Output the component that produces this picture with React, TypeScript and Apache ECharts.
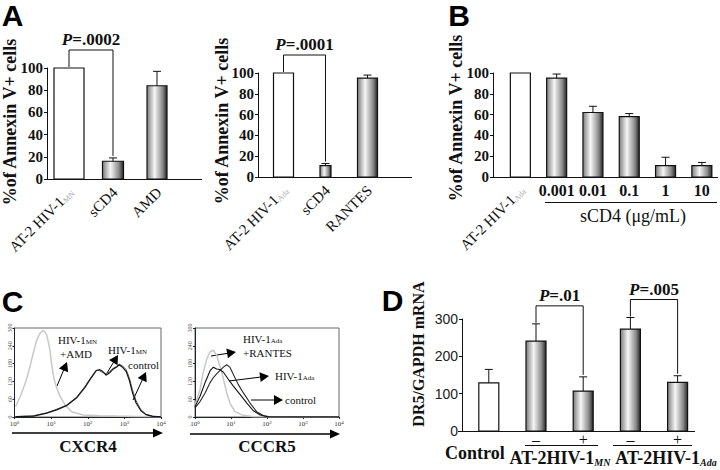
import React, { useEffect, useRef } from 'react';
import * as echarts from 'echarts';

const SERIF = 'Liberation Serif, Times New Roman, serif';
const SANS = 'Liberation Sans, Arial, sans-serif';

// ---------- Panel A (left) ----------
const A1_CATEGORIES = ['AT-2 HIV-1_MN', 'sCD4', 'AMD'];
const A1_VALUES = [100, 16, 84];
const A1_ERROR_TOPS = [100, 19, 97];
const A1_P_LABEL = 'P=.0002';

// ---------- Panel A (right) ----------
const A2_CATEGORIES = ['AT-2 HIV-1_Ada', 'sCD4', 'RANTES'];
const A2_VALUES = [100, 11, 95];
const A2_ERROR_TOPS = [100, 13, 98];
const A2_P_LABEL = 'P=.0001';

// ---------- Panel B ----------
const B_CATEGORIES = ['AT-2 HIV-1_Ada', '0.001', '0.01', '0.1', '1', '10'];
const B_VALUES = [100, 95, 62, 58, 11, 11];
const B_ERROR_TOPS = [100, 99, 68, 61, 19, 14];

// ---------- Panel C (flow histograms: [log10 fluorescence, counts]) ----------
const C1_AMD = [
  [0.03, 36], [0.16, 70], [0.3, 116], [0.43, 173], [0.52, 220], [0.61, 260], [0.7, 283], [0.79, 292],
  [0.88, 277], [0.96, 231], [1.02, 173], [1.08, 128], [1.15, 99], [1.24, 70], [1.38, 41], [1.56, 18],
  [1.87, 7], [2.32, 4], [2.8, 3], [3.3, 2], [3.99, 1],
];
const C1_HIV = [
  [0.03, 1], [0.52, 3], [0.88, 13], [1.15, 24], [1.42, 38], [1.69, 64], [1.92, 99], [2.1, 133],
  [2.23, 156], [2.32, 160], [2.41, 153], [2.5, 141], [2.59, 148], [2.68, 160], [2.78, 168], [2.86, 176],
  [2.95, 168], [3.05, 153], [3.14, 122], [3.22, 82], [3.32, 47], [3.45, 21], [3.59, 8], [3.77, 2], [3.99, 1],
];
const C1_CONTROL = [
  [0.03, 1], [0.52, 4], [0.88, 14], [1.15, 26], [1.42, 40], [1.69, 66], [1.92, 102], [2.1, 136],
  [2.23, 158], [2.32, 156], [2.41, 150], [2.5, 146], [2.59, 152], [2.68, 163], [2.78, 170], [2.86, 178],
  [2.95, 172], [3.05, 160], [3.14, 130], [3.22, 92], [3.32, 55], [3.45, 25], [3.59, 9], [3.77, 3], [3.99, 1],
];
const C2_RANTES = [
  [0, 41], [0.14, 93], [0.23, 151], [0.33, 197], [0.42, 220], [0.51, 225], [0.6, 208], [0.69, 173],
  [0.79, 128], [0.88, 82], [0.97, 47], [1.11, 18], [1.3, 7], [1.62, 1], [2.5, 0], [4, 0],
];
const C2_HIV = [
  [0, 35], [0.14, 70], [0.28, 116], [0.42, 156], [0.51, 168], [0.6, 162], [0.69, 160], [0.79, 151],
  [0.92, 128], [1.06, 105], [1.25, 76], [1.44, 47], [1.62, 21], [1.81, 7], [2.0, 1], [2.5, 0], [4, 0],
];
const C2_CONTROL = [
  [0, 31], [0.14, 52], [0.28, 81], [0.42, 116], [0.51, 133], [0.6, 145], [0.69, 156], [0.79, 168],
  [0.88, 176], [0.97, 168], [1.06, 145], [1.2, 110], [1.34, 82], [1.53, 47], [1.71, 18], [1.9, 5],
  [2.08, 1], [2.5, 0], [4, 0],
];

// ---------- Panel D ----------
const D_CATEGORIES = ['Control', '–', '+', '–', '+'];
const D_VALUES = [129, 241, 107, 273, 130];
const D_ERROR_TOPS = [165, 287, 145, 304, 148];
const D_P_LABELS = ['P=.01', 'P=.005'];

// bar widths (px) – styling
const A1_BAR_W = [30, 21, 20];
const A2_BAR_W = [20, 11, 20];
const B_BAR_W = [20];
const D_BAR_W = [20];

const BAR_GRAD = () =>
  new echarts.graphic.LinearGradient(0, 0, 1, 0, [
    { offset: 0, color: '#7c7c7c' },
    { offset: 0.38, color: '#f6f6f6' },
    { offset: 0.78, color: '#8a8a8a' },
    { offset: 1, color: '#262626' },
  ]);

const LABEL_RICH = {
  m: { fontFamily: SERIF, fontSize: 15, fill: '#111' },
  s: { fontFamily: SERIF, fontSize: 8, fill: '#aaa', verticalAlign: 'bottom' },
};
const P_RICH = {
  i: { fontFamily: SERIF, fontSize: 17, fontWeight: 'bold', fontStyle: 'italic', fill: '#111' },
  r: { fontFamily: SERIF, fontSize: 17, fontWeight: 'bold', fill: '#111' },
};
const catFmt = (v: string) => {
  const [m, s] = v.split('_');
  return s ? `{m|${m}}{s|${s}}` : `{m|${m}}`;
};

type Bracket = { from: number; to: number; label: string };

function barSeries(
  xi: number,
  yi: number,
  values: number[],
  errs: number[],
  widths: number[],
  brackets: Bracket[] = [],
) {
  return {
    type: 'custom',
    xAxisIndex: xi,
    yAxisIndex: yi,
    silent: true,
    clip: false,
    data: values.map((v, i) => [i, v, errs[i]]),
    encode: { x: 0, y: 1 },
    renderItem: (params: any, api: any) => {
      const i = params.dataIndex;
      const v = api.value(1);
      const e = api.value(2);
      const base = api.coord([i, 0]);
      const top = api.coord([i, v]);
      const w = widths[i] ?? widths[0];
      const children: any[] = [
        {
          type: 'rect',
          shape: { x: base[0] - w / 2, y: top[1], width: w, height: base[1] - top[1] },
          style: { fill: i === 0 ? '#ffffff' : BAR_GRAD(), stroke: '#111', lineWidth: 1.2 },
        },
      ];
      if (e > v) {
        const et = api.coord([i, e]);
        children.push({
          type: 'line',
          shape: { x1: top[0], y1: top[1], x2: top[0], y2: et[1] },
          style: { stroke: '#111', lineWidth: 1 },
        });
        children.push({
          type: 'line',
          shape: { x1: top[0] - 4, y1: et[1], x2: top[0] + 4, y2: et[1] },
          style: { stroke: '#111', lineWidth: 1 },
        });
      }
      brackets.forEach((b) => {
        if (b.to !== i) return;
        const pL = api.coord([b.from, errs[b.from]]);
        const pR = api.coord([b.to, errs[b.to]]);
        const topY = Math.min(pL[1], pR[1]) - 18;
        children.push({
          type: 'polyline',
          shape: { points: [[pL[0], pL[1] - 1], [pL[0], topY], [pR[0], topY], [pR[0], pR[1] - 2]] },
          style: { stroke: '#111', lineWidth: 1, fill: null },
        });
        children.push({
          type: 'text',
          style: {
            x: (pL[0] + pR[0]) / 2,
            y: topY - 2,
            text: `{i|${b.label.slice(0, 1)}}{r|${b.label.slice(1)}}`,
            align: 'center',
            verticalAlign: 'bottom',
            rich: P_RICH,
          },
        });
      });
      return { type: 'group', children };
    },
  };
}

function catAxis(gridIndex: number, data: string[], label: any) {
  return {
    type: 'category',
    gridIndex,
    position: 'bottom',
    data,
    axisLine: { show: false },
    axisTick: { show: false },
    axisLabel: label,
  };
}

function pctAxis(gridIndex: number, offset: number) {
  return {
    type: 'value',
    gridIndex,
    min: 0,
    max: 100,
    interval: 20,
    offset,
    axisLine: { show: true, lineStyle: { color: '#111', width: 1 } },
    axisTick: { show: true, length: 3, lineStyle: { color: '#111' } },
    axisLabel: { margin: 4, color: '#111', fontFamily: SERIF, fontWeight: 'bold', fontSize: 15 },
    splitLine: { show: false },
  };
}

function facsX(gridIndex: number) {
  return {
    type: 'value',
    gridIndex,
    position: 'bottom',
    min: 0,
    max: 4,
    interval: 1,
    axisLine: { show: true, onZero: false, lineStyle: { color: '#222' } },
    axisTick: { show: true, length: 2, lineStyle: { color: '#222' } },
    axisLabel: {
      margin: 3,
      formatter: (v: number) => `{b|10}{e|${v}}`,
      rich: {
        b: { fontFamily: SERIF, fontSize: 7, color: '#333' },
        e: { fontFamily: SERIF, fontSize: 5, color: '#333', verticalAlign: 'top' },
      },
    },
    splitLine: { show: false },
  };
}
function facsY(gridIndex: number) {
  return {
    type: 'value',
    gridIndex,
    min: 0,
    max: 300,
    interval: 60,
    axisLine: { show: true, onZero: false, lineStyle: { color: '#222' } },
    axisTick: { show: true, length: 2, lineStyle: { color: '#222' } },
    axisLabel: { rotate: 90, margin: 2, fontFamily: SERIF, fontSize: 6, color: '#555' },
    splitLine: { show: false },
  };
}

function facsLine(xi: number, yi: number, name: string, data: number[][], color: string, width: number) {
  return {
    type: 'line',
    name,
    xAxisIndex: xi,
    yAxisIndex: yi,
    data,
    showSymbol: false,
    silent: true,
    lineStyle: { color, width },
  };
}

function arrow(x1: number, y1: number, x2: number, y2: number, L = 9, W = 5, lw = 1) {
  const dx = x2 - x1;
  const dy = y2 - y1;
  const len = Math.hypot(dx, dy);
  const ux = dx / len;
  const uy = dy / len;
  const nx = -uy;
  const ny = ux;
  const bx = x2 - ux * L;
  const by = y2 - uy * L;
  return [
    { type: 'line', silent: true, shape: { x1, y1, x2: bx + ux, y2: by + uy }, style: { stroke: '#000', lineWidth: lw } },
    {
      type: 'polygon',
      silent: true,
      shape: { points: [[x2, y2], [bx + nx * W, by + ny * W], [bx - nx * W, by - ny * W]] },
      style: { fill: '#000' },
    },
  ];
}

function txt(text: string, x: number, y: number, opts: any = {}) {
  return {
    type: 'text',
    silent: true,
    style: {
      text,
      x,
      y,
      align: opts.align ?? 'left',
      verticalAlign: 'middle',
      fontFamily: opts.family ?? SERIF,
      fontSize: opts.size ?? 11,
      fontWeight: opts.weight ?? 'normal',
      fill: '#111',
      rich: opts.rich,
    },
  };
}
const SUB_RICH_SMALL = {
  m: { fontFamily: SERIF, fontSize: 11, fill: '#111' },
  s: { fontFamily: SERIF, fontSize: 7, fill: '#111', verticalAlign: 'bottom' },
};
const SUB_RICH_D = {
  m: { fontFamily: SERIF, fontSize: 18, fontWeight: 'bold', fill: '#111' },
  s: { fontFamily: SERIF, fontSize: 10, fontWeight: 'bold', fontStyle: 'italic', fill: '#111', verticalAlign: 'bottom' },
};

function vtitle(text: string, x: number, y: number, size: number) {
  return {
    type: 'text',
    silent: true,
    x,
    y,
    rotation: Math.PI / 2,
    style: {
      text,
      x: 0,
      y: 0,
      align: 'center',
      verticalAlign: 'middle',
      fontFamily: SERIF,
      fontWeight: 'bold',
      fontSize: size,
      fill: '#111',
    },
  };
}
function hline(x1: number, x2: number, y: number) {
  return { type: 'line', silent: true, shape: { x1, y1: y, x2, y2: y }, style: { stroke: '#111', lineWidth: 1 } };
}
function letter(t: string, x: number, y: number) {
  return {
    type: 'text',
    silent: true,
    style: { text: t, x, y, align: 'center', verticalAlign: 'middle', fontFamily: SANS, fontWeight: 'bold', fontSize: 30, fill: '#000' },
  };
}

export default function App() {
  const ref = useRef<HTMLDivElement>(null);
  useEffect(() => {
    if (!ref.current) return;
    const chart = echarts.init(ref.current, undefined, { renderer: 'svg' });
    const option: any = {
      animation: false,
      backgroundColor: '#ffffff',
      grid: [
        { left: 47, top: 68, width: 132, height: 111 },
        { left: 262.5, top: 73, width: 126, height: 104 },
        { left: 502.2, top: 73, width: 220, height: 104 },
        { left: 14.5, top: 328, width: 146.5, height: 89, show: true, borderColor: '#666', borderWidth: 1 },
        { left: 195, top: 328, width: 144, height: 89, show: true, borderColor: '#666', borderWidth: 1 },
        { left: 465.2, top: 319, width: 236, height: 112 },
      ],
      xAxis: [
        catAxis(0, A1_CATEGORIES, { show: false }),
        catAxis(1, A2_CATEGORIES, { show: false }),
        catAxis(2, B_CATEGORIES, {
          interval: 0,
          margin: 5,
          formatter: (v: string, i: number) => (i === 0 ? '' : v),
          fontFamily: SERIF,
          fontWeight: 'bold',
          fontSize: 16,
          color: '#111',
        }),
        facsX(3),
        facsX(4),
        catAxis(5, D_CATEGORIES, {
          interval: 0,
          margin: 0,
          formatter: (v: string, i: number) => (i === 0 ? `{c|${v}}` : `{p|${v}}`),
          rich: {
            c: { fontFamily: SERIF, fontWeight: 'bold', fontSize: 18, color: '#111', padding: [13, 28, 0, 0] },
            p: { fontFamily: SERIF, fontSize: 16, color: '#111' },
          },
        }),
      ],
      yAxis: [
        pctAxis(0, 0),
        pctAxis(1, 4.5),
        pctAxis(2, 9.2),
        facsY(3),
        facsY(4),
        {
          type: 'value',
          gridIndex: 5,
          min: 0,
          max: 300,
          interval: 100,
          offset: 3.2,
          axisLine: { show: true, lineStyle: { color: '#111' } },
          axisTick: { show: true, length: 3, lineStyle: { color: '#111' } },
          axisLabel: { margin: 4, fontFamily: SANS, fontSize: 14, color: '#222' },
          splitLine: { show: false },
        },
      ],
      series: [
        barSeries(0, 0, A1_VALUES, A1_ERROR_TOPS, A1_BAR_W, [{ from: 0, to: 1, label: A1_P_LABEL }]),
        barSeries(1, 1, A2_VALUES, A2_ERROR_TOPS, A2_BAR_W, [{ from: 0, to: 1, label: A2_P_LABEL }]),
        barSeries(2, 2, B_VALUES, B_ERROR_TOPS, B_BAR_W),
        facsLine(3, 3, 'HIV-1MN +AMD', C1_AMD, '#c8c8c8', 1.5),
        facsLine(3, 3, 'control', C1_CONTROL, '#555555', 1),
        facsLine(3, 3, 'HIV-1MN', C1_HIV, '#161616', 1.2),
        facsLine(4, 4, 'HIV-1Ada +RANTES', C2_RANTES, '#c8c8c8', 1.5),
        facsLine(4, 4, 'control', C2_CONTROL, '#2a2a2a', 1.1),
        facsLine(4, 4, 'HIV-1Ada', C2_HIV, '#111111', 1.1),
        barSeries(5, 5, D_VALUES, D_ERROR_TOPS, D_BAR_W, [
          { from: 1, to: 2, label: D_P_LABELS[0] },
          { from: 3, to: 4, label: D_P_LABELS[1] },
        ]),
      ],
    };
    chart.setOption(option);

    // rotated category labels, placed through the axes' own pixel mapping
    const rotated: any[] = [];
    const addRotated = (axisIdx: number, cats: string[], count: number) => {
      cats.slice(0, count).forEach((c, i) => {
        const p = chart.convertToPixel({ xAxisIndex: axisIdx, yAxisIndex: axisIdx } as any, [i, 0]) as number[];
        rotated.push({
          type: 'text',
          silent: true,
          x: p[0] + 2,
          y: p[1] + 11,
          rotation: Math.PI / 4,
          style: { x: 0, y: 0, text: catFmt(c), align: 'right', verticalAlign: 'middle', rich: LABEL_RICH },
        });
      });
    };
    addRotated(0, A1_CATEGORIES, A1_CATEGORIES.length);
    addRotated(1, A2_CATEGORIES, A2_CATEGORIES.length);
    addRotated(2, B_CATEGORIES, 1);

    chart.setOption({
      graphic: {
        elements: [
          letter('A', 12.5, 15),
          letter('B', 459, 15.5),
          letter('C', 12.5, 301.5),
          letter('D', 392.5, 300),
          vtitle('%of Annexin V+ cells', 10, 122, 18),
          vtitle('%of Annexin V+ cells', 222, 121, 18),
          vtitle('%of Annexin V+ cells', 456, 118, 18),
          vtitle('DR5/GAPDH mRNA', 418, 354, 16),
          hline(47, 202, 179.5),
          hline(258, 412, 177.5),
          hline(493, 718, 177.5),
          hline(458, 695, 431.5),
          hline(545, 717, 202.5),
          txt('sCD4 (μg/mL)', 633, 216, { align: 'center', size: 18 }),
          hline(525, 598, 445.5),
          hline(613, 692, 445.5),
          txt('{m|AT-2HIV-1}{s|MN}', 560, 458, { align: 'center', rich: SUB_RICH_D }),
          txt('{m|AT-2HIV-1}{s|Ada}', 666, 458, { align: 'center', rich: SUB_RICH_D }),
          // panel C annotations
          txt('{m|HIV-1}{s|MN}', 58, 340, { rich: SUB_RICH_SMALL }),
          txt('+AMD', 60, 354),
          txt('{m|HIV-1}{s|MN}', 108, 350, { rich: SUB_RICH_SMALL }),
          txt('control', 128, 365),
          ...arrow(57, 386, 67, 362),
          ...arrow(107, 373, 118, 355),
          ...arrow(133, 400, 146, 372),
          txt('{m|HIV-1}{s|Ada}', 243, 339, { rich: SUB_RICH_SMALL }),
          txt('+RANTES', 243, 353),
          txt('{m|HIV-1}{s|Ada}', 275, 376, { rich: SUB_RICH_SMALL }),
          txt('control', 285, 400),
          ...arrow(211, 356, 236, 352),
          ...arrow(229, 381, 269, 376),
          ...arrow(251, 400, 283, 400),
          ...arrow(12, 433, 163, 433, 10, 4.5, 1.5),
          ...arrow(190, 434, 340, 434, 10, 4.5, 1.5),
          txt('CXCR4', 88, 446, { align: 'center', size: 17, weight: 'bold' }),
          txt('CCCR5', 267, 446, { align: 'center', size: 17, weight: 'bold' }),
          ...rotated,
        ],
      },
    });
    return () => chart.dispose();
  }, []);
  return <div ref={ref} style={{ position: 'fixed', left: 0, top: 0, width: 720, height: 470, background: '#fff' }} />;
}
